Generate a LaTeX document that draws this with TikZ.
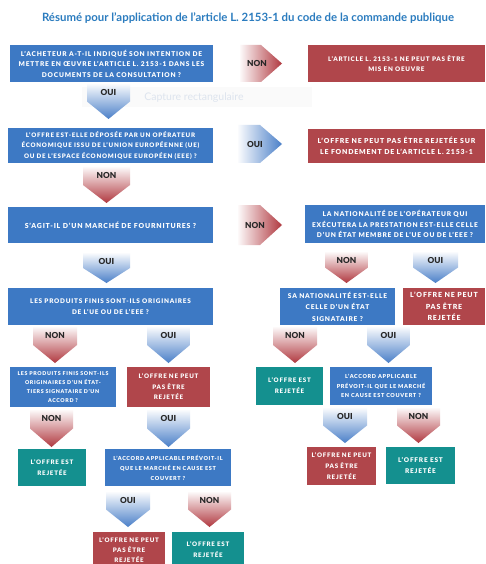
\documentclass[tikz,border=0pt]{standalone}
\usepackage{fontspec}
\setmainfont{Lato}[BoldFont={Lato Bold}]
\newfontfamily\boxfont{Lato}[LetterSpace=12, BoldFont={Lato Black}]
\newfontfamily\lblfont{Lato Black}
\definecolor{bbox}{HTML}{3D79C4}
\definecolor{rbox}{HTML}{B0464B}
\definecolor{tbox}{HTML}{14908F}
\definecolor{ttl}{HTML}{2B7CBF}
\definecolor{barr}{HTML}{4A7FC8}
\definecolor{rarr}{HTML}{B0383F}
\definecolor{ghostc}{HTML}{DDE4EE}
\tikzset{
  box/.style={inner sep=1pt, text=white, align=center},
  fs/.style 2 args={font=\boxfont\bfseries\fontsize{#1}{#2}\selectfont},
  bluebox/.style={box, fill=bbox},
  redbox/.style={box, fill=rbox},
  tealbox/.style={box, fill=tbox},
  arrlbl/.style={inner sep=0pt, text=black!85, font=\lblfont\fontsize{8.3}{9}\selectfont},
}
\newcommand{\DArr}[7]{%
  \shade[top color=#6!3, bottom color=#6] (#2,#4) -- (#2,{(#4+#5)/2}) -- ({(#2+#3)/2},#5) -- (#3,{(#4+#5)/2}) -- (#3,#4) -- cycle;
  \node[arrlbl] (#1) at ({(#2+#3)/2},{#4+8}) {#7};}
\newcommand{\RArr}[7]{%
  \shade[left color=#6!3, right color=#6] (#2,#4) -- ({(#2+#3)/2},#4) -- (#3,{(#4+#5)/2}) -- ({(#2+#3)/2},#5) -- (#2,#5) -- cycle;
  \node[arrlbl] (#1) at ({#2+17},{(#4+#5)/2}) {#7};}
\begin{document}
\begin{tikzpicture}[x=1pt,y=-1pt]
\clip (0,0) rectangle (485,564);
\fill[white] (0,0) rectangle (485,564);
% title
\node[font=\bfseries\fontsize{11.4}{13}\selectfont, text=ttl] (title) at (248,18) {Résumé pour l’application de l’article L. 2153-1 du code de la commande publique};
% ghost capture text
\fill[black!2] (82,87) rectangle (312,107);
\node[text=ghostc, font=\fontsize{10.5}{12}\selectfont] (ghost) at (194,98) {Capture rectangulaire};
% boxes
\node[bluebox, fs={6.6}{10.5}, minimum width=203pt, minimum height=37pt] (b1) at (111.5,63.5) {L’ACHETEUR A-T-IL INDIQUÉ SON INTENTION DE\\METTRE EN ŒUVRE L’ARTICLE L. 2153-1 DANS LES\\DOCUMENTS DE LA CONSULTATION ?};
\node[redbox, fs={6.3}{10.5}, minimum width=177pt, minimum height=37pt] (r1) at (396.5,63.5) {L’ARTICLE L. 2153-1 NE PEUT PAS ÊTRE\\MIS EN OEUVRE};
\node[bluebox, fs={6.2}{10.5}, minimum width=205pt, minimum height=35pt] (b2) at (110.5,145.5) {L’OFFRE EST-ELLE DÉPOSÉE PAR UN OPÉRATEUR\\ÉCONOMIQUE ISSU DE L’UNION EUROPÉENNE (UE)\\OU DE L’ESPACE ÉCONOMIQUE EUROPÉEN (EEE) ?};
\node[redbox, fs={6.9}{11}, minimum width=177pt, minimum height=34pt] (r2) at (396.5,146) {L’OFFRE NE PEUT PAS ÊTRE REJETÉE SUR\\LE FONDEMENT DE L’ARTICLE L. 2153-1};
\node[bluebox, fs={6.9}{10.5}, minimum width=205pt, minimum height=36pt] (b3) at (110.5,225) {S’AGIT-IL D’UN MARCHÉ DE FOURNITURES ?};
\node[bluebox, fs={6.6}{10.5}, minimum width=180pt, minimum height=38pt] (b3r) at (395,224) {LA NATIONALITÉ DE L’OPÉRATEUR QUI\\EXÉCUTERA LA PRESTATION EST-ELLE CELLE\\D’UN ÉTAT MEMBRE DE L’UE OU DE L’EEE ?};
\node[bluebox, fs={6.4}{11.5}, minimum width=205pt, minimum height=37pt] (b4) at (110.5,306.5) {LES PRODUITS FINIS SONT-ILS ORIGINAIRES\\DE L’UE OU DE L’EEE ?};
\node[bluebox, fs={6.6}{11.5}, minimum width=115pt, minimum height=37pt] (b5) at (337.5,306.5) {SA NATIONALITÉ EST-ELLE\\CELLE D’UN ÉTAT\\SIGNATAIRE ?};
\node[redbox, fs={7.0}{11.5}, minimum width=82pt, minimum height=37pt] (r5) at (444,306.5) {L’OFFRE NE PEUT\\PAS ÊTRE\\REJETÉE};
\node[bluebox, fs={5.3}{9.2}, minimum width=106pt, minimum height=40pt] (b6) at (63,387) {LES PRODUITS FINIS SONT-ILS\\ORIGINAIRES D’UN ÉTAT-\\TIERS SIGNATAIRE D’UN\\ACCORD ?};
\node[redbox, fs={6.2}{10.5}, minimum width=83pt, minimum height=40pt] (r6) at (168.5,387) {L’OFFRE NE PEUT\\PAS ÊTRE\\REJETÉE};
\node[tealbox, fs={6.2}{11}, minimum width=67pt, minimum height=38pt] (t6) at (289.5,386) {L’OFFRE EST\\REJETÉE};
\node[bluebox, fs={5.5}{9.5}, minimum width=102pt, minimum height=38pt] (b7) at (381,386) {L’ACCORD APPLICABLE\\PRÉVOIT-IL QUE LE MARCHÉ\\EN CAUSE EST COUVERT ?};
\node[tealbox, fs={6.2}{11}, minimum width=68pt, minimum height=37pt] (t8) at (52,467.5) {L’OFFRE EST\\REJETÉE};
\node[bluebox, fs={5.5}{10}, minimum width=126pt, minimum height=37pt] (b8) at (168,467.5) {L’ACCORD APPLICABLE PRÉVOIT-IL\\QUE LE MARCHÉ EN CAUSE EST\\COUVERT ?};
\node[redbox, fs={6.2}{10.8}, minimum width=69pt, minimum height=38pt] (r8) at (341.5,466) {L’OFFRE NE PEUT\\PAS ÊTRE\\REJETÉE};
\node[tealbox, fs={6.5}{11}, minimum width=69pt, minimum height=37pt] (t8r) at (420.5,465.5) {L’OFFRE EST\\REJETÉE};
\node[redbox, fs={6.2}{10.2}, minimum width=72pt, minimum height=36pt] (r9) at (129,550) {L’OFFRE NE PEUT\\PAS ÊTRE\\REJETÉE};
\node[tealbox, fs={6.2}{11}, minimum width=72pt, minimum height=36pt] (t9) at (208,550) {L’OFFRE EST\\REJETÉE};
% arrows
\RArr{h1}{240}{282}{45}{82}{rarr}{NON}
\RArr{h2}{238}{282}{125}{163}{barr}{OUI}
\RArr{h3}{238}{282}{205}{245}{rarr}{NON}
\DArr{a1}{87}{130}{84}{119}{barr}{OUI}
\DArr{a2}{83}{130}{167}{203}{rarr}{NON}
\DArr{a3}{83}{130}{253}{283}{barr}{OUI}
\DArr{a4}{33}{77}{327}{363}{rarr}{NON}
\DArr{a5}{147}{190}{327}{363}{barr}{OUI}
\DArr{a6}{325}{368}{252}{283}{rarr}{NON}
\DArr{a7}{413}{458}{252}{283}{barr}{OUI}
\DArr{a8}{273}{317}{327}{363}{rarr}{NON}
\DArr{a9}{367}{410}{327}{363}{barr}{OUI}
\DArr{a10}{30}{73}{410}{447}{rarr}{NON}
\DArr{a11}{147}{190}{410}{447}{barr}{OUI}
\DArr{a12}{323}{367}{408}{443}{barr}{OUI}
\DArr{a13}{397}{440}{408}{443}{rarr}{NON}
\DArr{a14}{106}{150}{492}{527}{barr}{OUI}
\DArr{a15}{188}{231}{492}{527}{rarr}{NON}
\end{tikzpicture}
\end{document}
